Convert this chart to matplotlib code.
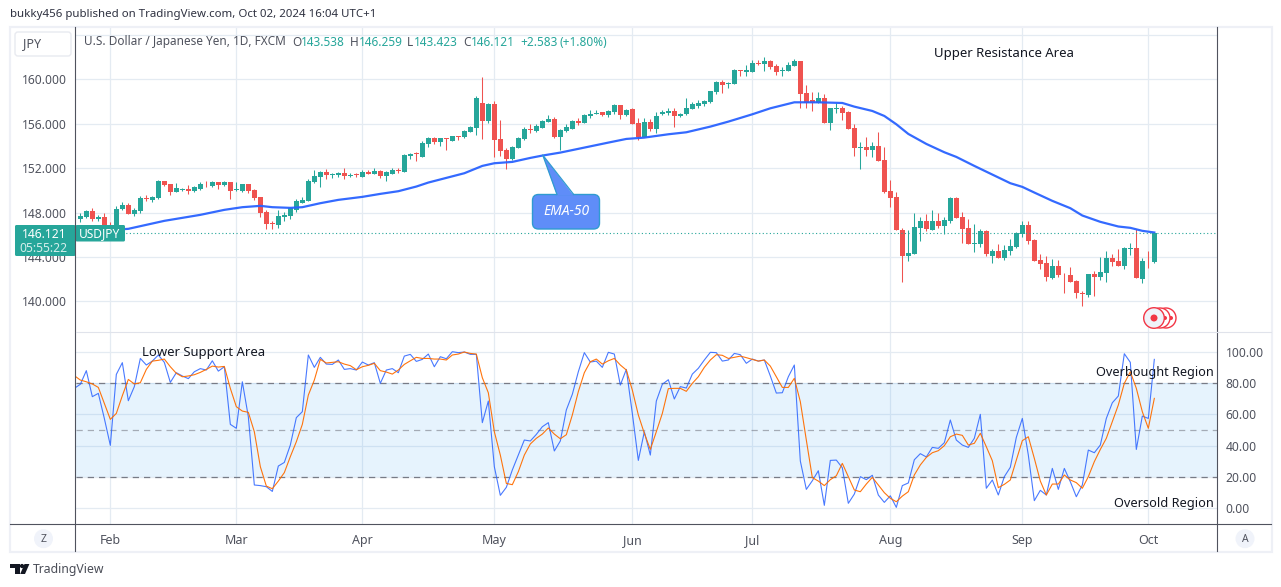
"""USD/JPY daily chart with EMA-50 and stochastic RSI panes (TradingView snapshot)."""

import numpy as np
import matplotlib
matplotlib.use("Agg")
import matplotlib.pyplot as plt
from matplotlib.patches import Circle, FancyBboxPatch, Polygon, Rectangle

plt.rcParams["font.family"] = ["Noto Sans", "DejaVu Sans"]

# daily candles, bar 0 is the first one visible
opens = [
    147.43, 147.58, 148.12, 147.43, 147.58, 146.89, 146.44, 148.33, 148.69, 147.88,
    148.18, 149.35, 149.14, 149.29, 150.82, 150.55, 149.89, 150.04, 150.13, 149.95,
    150.13, 150.61, 150.40, 150.73, 150.49, 150.73, 150.04, 149.95, 150.55, 150.04,
    149.38, 148.03, 147.07, 146.89, 147.64, 147.70, 148.24, 148.90, 149.05, 150.79,
    151.21, 151.66, 151.42, 151.36, 151.54, 151.33, 151.45, 151.24, 151.66, 151.48,
    151.75, 151.30, 151.51, 151.81, 151.66, 153.10, 153.34, 153.04, 154.18, 154.72,
    154.36, 154.72, 154.45, 154.90, 154.81, 155.26, 155.65, 157.87, 156.25, 157.78,
    154.63, 153.64, 152.83, 153.85, 154.63, 155.56, 155.35, 155.62, 156.19, 156.43,
    154.84, 155.32, 155.56, 156.25, 156.10, 156.70, 156.91, 157.03, 156.79, 157.06,
    157.69, 156.79, 157.33, 156.07, 154.81, 156.16, 155.56, 156.88, 156.97, 157.15,
    156.67, 156.88, 157.33, 157.63, 157.81, 157.96, 158.89, 159.76, 159.61, 159.61,
    160.84, 160.69, 160.69, 161.47, 161.41, 161.65, 161.20, 160.78, 160.78, 161.20,
    161.65, 158.77, 158.14, 157.90, 158.32, 156.10, 157.36, 157.42, 157.06, 155.62,
    153.82, 153.91, 153.67, 154.00, 152.74, 149.95, 149.41, 146.44, 144.10, 144.28,
    146.62, 147.25, 146.44, 147.25, 146.80, 147.25, 149.35, 147.61, 146.62, 145.18,
    145.18, 146.35, 144.10, 144.55, 143.92, 144.55, 144.91, 146.08, 146.89, 145.54,
    143.74, 143.47, 142.12, 143.20, 142.48, 142.39, 141.85, 140.74, 140.59, 142.48,
    142.21, 142.57, 143.92, 143.65, 143.20, 144.73, 144.82, 142.03, 143.65, 143.538,
]
highs = [
    147.94, 148.24, 148.39, 147.79, 147.94, 147.19, 148.60, 148.96, 148.87, 148.39,
    149.50, 149.59, 149.53, 150.94, 150.88, 150.61, 150.67, 150.25, 150.46, 150.37,
    150.76, 150.82, 150.85, 150.76, 150.85, 150.76, 150.76, 150.61, 150.61, 150.13,
    149.41, 148.21, 147.22, 148.24, 148.06, 148.48, 149.23, 149.41, 151.03, 151.84,
    151.75, 151.93, 151.60, 151.66, 152.02, 151.57, 151.60, 151.84, 151.84, 152.02,
    151.84, 151.78, 151.99, 151.99, 153.28, 153.37, 153.49, 154.45, 154.84, 154.78,
    154.72, 154.72, 154.90, 154.90, 155.44, 155.80, 158.50, 160.18, 157.84, 158.02,
    156.34, 153.85, 154.00, 154.81, 155.71, 155.98, 155.98, 156.31, 156.79, 156.58,
    155.53, 155.95, 156.34, 156.55, 156.88, 157.21, 157.21, 157.09, 157.24, 157.78,
    157.69, 157.33, 157.39, 156.49, 156.49, 156.46, 157.03, 157.24, 157.42, 157.39,
    157.00, 158.32, 157.96, 158.11, 158.14, 158.98, 159.85, 159.94, 159.76, 160.93,
    160.84, 161.26, 161.74, 161.71, 161.98, 161.71, 161.38, 161.14, 161.56, 161.80,
    161.68, 159.46, 158.86, 158.83, 158.65, 157.42, 157.84, 157.63, 157.18, 155.98,
    154.36, 154.81, 154.36, 155.26, 153.91, 150.94, 149.86, 146.59, 146.44, 147.97,
    147.61, 147.88, 148.24, 147.97, 147.61, 149.41, 149.41, 148.06, 147.43, 146.98,
    146.53, 146.44, 144.73, 145.18, 145.09, 145.63, 146.26, 147.25, 147.25, 145.60,
    144.28, 144.10, 143.83, 143.74, 142.57, 143.11, 141.94, 140.95, 142.48, 142.75,
    144.01, 144.55, 144.28, 144.73, 144.91, 145.27, 146.53, 143.92, 144.55, 146.259,
]
lows = [
    147.19, 147.49, 147.28, 147.25, 146.74, 146.14, 146.38, 148.24, 147.88, 147.70,
    148.00, 149.05, 148.96, 149.23, 150.40, 149.59, 149.86, 149.95, 149.71, 149.86,
    150.04, 150.31, 150.34, 150.13, 150.43, 149.23, 149.98, 149.89, 149.80, 149.14,
    147.61, 146.53, 146.53, 146.62, 147.25, 147.43, 148.06, 148.84, 149.02, 150.70,
    150.34, 151.03, 151.15, 151.24, 151.03, 151.18, 151.21, 151.21, 151.45, 151.45,
    151.09, 150.85, 151.45, 151.57, 151.66, 152.83, 152.65, 153.01, 153.91, 154.18,
    154.03, 153.64, 154.42, 154.54, 154.75, 155.23, 154.99, 154.60, 156.10, 153.04,
    153.13, 151.96, 152.74, 153.82, 154.54, 155.20, 155.26, 155.59, 156.16, 154.75,
    153.64, 155.26, 155.53, 155.89, 156.07, 156.55, 156.85, 156.70, 156.61, 156.91,
    156.43, 156.67, 155.95, 154.54, 154.78, 155.35, 155.17, 156.79, 156.82, 155.71,
    156.61, 156.76, 157.30, 157.45, 157.60, 157.90, 158.71, 158.80, 159.25, 159.58,
    160.33, 160.33, 160.66, 161.29, 160.78, 160.93, 160.42, 160.33, 160.75, 161.17,
    157.45, 157.42, 157.15, 157.87, 156.07, 155.44, 157.00, 156.34, 155.53, 153.10,
    151.93, 153.10, 153.01, 152.65, 149.74, 148.54, 146.44, 141.76, 143.65, 144.28,
    145.45, 146.35, 146.44, 146.62, 146.08, 147.07, 147.49, 145.27, 145.18, 144.46,
    144.91, 144.10, 143.47, 143.92, 143.74, 144.19, 144.82, 145.81, 145.18, 143.65,
    142.93, 141.85, 142.03, 142.21, 140.77, 141.76, 140.32, 139.60, 140.41, 140.50,
    141.94, 141.76, 143.20, 143.20, 142.93, 144.19, 142.12, 141.67, 143.02, 143.423,
]
closes = [
    147.70, 148.12, 147.46, 147.58, 146.86, 146.29, 148.30, 148.69, 147.88, 148.24,
    149.29, 149.26, 149.41, 150.85, 150.49, 149.86, 150.22, 150.13, 149.98, 150.31,
    150.58, 150.55, 150.76, 150.49, 150.73, 149.98, 150.13, 150.55, 149.95, 149.29,
    148.00, 147.01, 146.98, 147.67, 147.82, 148.39, 149.02, 149.14, 150.82, 151.27,
    151.66, 151.39, 151.51, 151.57, 151.33, 151.42, 151.36, 151.63, 151.51, 151.75,
    151.30, 151.66, 151.87, 151.75, 153.19, 153.28, 153.25, 154.24, 154.75, 154.39,
    154.72, 154.66, 154.90, 154.81, 155.35, 155.74, 158.29, 156.28, 157.81, 154.57,
    153.58, 152.83, 153.91, 154.72, 155.53, 155.47, 155.80, 156.22, 156.43, 154.81,
    155.44, 155.71, 156.25, 156.10, 156.79, 156.88, 157.00, 156.79, 157.15, 157.69,
    156.82, 157.24, 156.01, 154.78, 156.16, 155.56, 156.70, 157.09, 157.18, 156.70,
    156.91, 157.39, 157.78, 157.87, 158.05, 158.95, 159.79, 159.52, 159.70, 160.84,
    160.78, 160.81, 161.47, 161.41, 161.65, 161.11, 160.66, 160.84, 161.29, 161.65,
    158.71, 157.90, 157.90, 158.32, 156.10, 157.39, 157.45, 157.00, 155.56, 153.85,
    153.91, 153.67, 154.00, 152.68, 149.89, 149.35, 146.44, 144.10, 144.37, 146.71,
    147.25, 146.53, 147.25, 146.80, 147.34, 149.35, 147.52, 146.53, 145.18, 145.27,
    146.35, 144.28, 144.55, 143.92, 144.64, 145.00, 146.17, 146.89, 145.45, 143.65,
    143.38, 142.21, 143.20, 142.39, 142.42, 141.76, 140.77, 140.68, 142.48, 142.21,
    142.66, 143.92, 143.56, 143.20, 144.82, 144.82, 142.12, 143.65, 143.59, 146.121,
]

# EMA-50 at these bars
ema_bars = [0, 8, 14, 20, 24, 27, 30, 32, 35, 37, 40, 43, 47, 50, 53, 56, 58,
            64, 67, 69, 72, 75, 77, 80, 84, 88, 91, 94, 98, 101, 105, 108, 112,
            115, 119, 123, 127, 129, 132, 134, 136, 138, 141, 144, 146, 149, 152,
            155, 157, 159, 162, 165, 167, 170, 173, 175, 177, 179]
ema_vals = [146.23, 146.53, 147.25, 147.79, 148.24, 148.48, 148.60, 148.48, 148.42,
            148.48, 148.84, 149.14, 149.41, 149.68, 149.92, 150.34, 150.70,
            151.54, 152.20, 152.44, 152.56, 152.92, 153.13, 153.40, 153.85, 154.30,
            154.63, 154.75, 155.05, 155.23, 155.74, 156.19, 156.85, 157.39, 157.93,
            157.93, 157.87, 157.54, 157.15, 156.70, 155.95, 155.08, 154.18, 153.43,
            153.01, 152.20, 151.42, 150.64, 150.31, 149.80, 149.05, 148.39, 147.73,
            147.16, 146.74, 146.62, 146.35, 146.20]

# stochastic RSI, starts one bar before the first candle (bar -1)
stoch_k = [
    76.6, 79.2, 87.9, 71.3, 73.4, 57.4, 40.2, 85.5, 93.0, 68.7,
    77.7, 95.7, 91.5, 94.0, 97.9, 93.2, 80.4, 86.6, 84.5, 82.8,
    87.2, 89.2, 88.3, 94.2, 87.6, 90.4, 53.6, 51.1, 80.8, 58.5,
    14.9, 14.5, 13.8, 10.8, 27.0, 29.3, 40.4, 57.9, 61.7, 97.9,
    90.0, 96.4, 92.1, 91.9, 94.7, 88.7, 89.2, 88.3, 93.4, 91.5,
    93.0, 79.8, 88.3, 89.2, 86.6, 97.2, 98.3, 93.8, 95.1, 98.5,
    90.4, 96.8, 95.5, 100.0, 99.4, 99.8, 98.3, 98.3, 54.7, 68.5,
    26.6, 8.3, 13.4, 24.5, 34.0, 43.6, 43.0, 47.2, 52.1, 54.7,
    36.6, 43.0, 62.8, 72.8, 87.2, 99.4, 93.4, 94.0, 90.0, 99.6,
    98.5, 78.7, 88.7, 60.6, 30.6, 48.9, 34.0, 68.5, 79.2, 82.1,
    69.8, 77.7, 76.8, 85.7, 89.4, 94.7, 99.6, 99.4, 94.0, 94.7,
    98.9, 98.1, 92.6, 95.3, 94.0, 94.7, 84.5, 73.6, 73.8, 84.0,
    91.5, 30.2, 12.1, 17.6, 24.0, 1.9, 30.6, 30.8, 25.9, 3.2,
    9.1, 20.2, 18.3, 21.1, 8.5, 3.8, 8.0, 0.6, 14.5, 16.2,
    31.0, 34.9, 32.8, 38.9, 38.3, 41.9, 56.4, 43.6, 40.4, 38.9,
    44.7, 60.0, 12.8, 18.1, 8.5, 20.2, 26.2, 45.3, 57.4, 34.0,
    4.9, 11.5, 8.5, 25.5, 12.1, 25.5, 17.0, 7.4, 14.9, 37.2,
    35.5, 40.4, 57.4, 67.4, 71.7, 98.7, 93.2, 37.6, 58.9, 57.4,
    95.1,
]
stoch_d = [
    84.7, 81.9, 80.8, 79.4, 77.2, 67.0, 56.8, 60.6, 71.9, 82.3,
    79.4, 80.2, 88.7, 94.0, 94.5, 95.3, 90.4, 86.2, 84.0, 84.5,
    85.3, 86.8, 88.7, 90.8, 90.2, 90.6, 76.6, 64.9, 62.1, 61.3,
    48.9, 26.6, 14.2, 12.5, 17.4, 22.8, 33.0, 42.5, 53.6, 72.3,
    81.9, 95.1, 92.8, 93.2, 93.6, 92.1, 91.1, 88.5, 90.4, 91.3,
    92.6, 87.9, 87.0, 85.7, 88.3, 91.9, 94.2, 96.4, 95.7, 95.7,
    95.3, 95.3, 94.7, 97.9, 98.5, 99.8, 98.9, 98.5, 83.4, 73.8,
    48.9, 34.0, 15.9, 15.1, 23.4, 34.0, 41.1, 44.7, 47.4, 51.3,
    47.4, 44.4, 47.0, 59.6, 74.5, 86.6, 93.6, 95.3, 92.1, 94.2,
    95.7, 91.5, 88.3, 75.5, 59.6, 47.9, 37.6, 48.9, 60.6, 76.4,
    76.6, 76.6, 74.7, 79.8, 84.0, 90.0, 94.7, 98.1, 97.7, 95.7,
    96.4, 97.2, 96.2, 95.1, 94.0, 94.7, 90.8, 84.0, 77.2, 77.2,
    83.0, 68.1, 43.6, 19.6, 17.4, 14.5, 18.3, 20.8, 28.7, 20.2,
    11.7, 10.6, 15.5, 19.8, 14.9, 10.0, 6.4, 4.2, 7.8, 10.6,
    21.3, 27.7, 32.5, 35.5, 36.8, 40.0, 45.7, 47.4, 46.6, 40.4,
    41.5, 47.9, 39.3, 30.4, 13.2, 15.3, 18.1, 30.8, 43.2, 45.7,
    31.9, 17.4, 8.5, 15.5, 15.5, 21.3, 18.1, 16.4, 12.8, 20.2,
    29.8, 37.6, 44.7, 55.3, 66.0, 79.8, 87.2, 76.6, 61.7, 51.1,
    70.2,
]

month_bars = [5, 26, 47, 69, 92, 112, 135, 157, 178]
month_labels = ["Feb", "Mar", "Apr", "May", "Jun", "Jul", "Aug", "Sep", "Oct"]
price_ticks = [140, 144, 148, 152, 156, 160, 164]
price_labels = ["140.000", "144.000", "148.000", "152.000", "156.000", "160.000", ""]
stoch_ticks = [0, 20, 40, 60, 80, 100]
stoch_labels = ["0.00", "20.00", "40.00", "60.00", "80.00", "100.00"]

GREEN = "#26a69a"
RED = "#ef5350"
GRID = "#e4ebf2"
AXIS = "#50535e"
TEXT = "#131722"
W, H = 1281, 587
PANE_L, PANE_R = 75.5, 1217.5
PANE_TOP, PANE_MID, PANE_BOT = 27.5, 331.5, 524.3


def pane_rect(top, bottom):
    return [PANE_L / W, 1 - bottom / H, (PANE_R - PANE_L) / W, (bottom - top) / H]


fig = plt.figure(figsize=(W / 100, H / 100), dpi=100, facecolor="white")
ax = fig.add_axes(pane_rect(PANE_TOP, PANE_MID))
ax2 = fig.add_axes(pane_rect(PANE_MID, PANE_BOT))

for a in (ax, ax2):
    a.set_xlim(-0.805, 189.53)
    for s in a.spines.values():
        s.set_visible(False)
    a.set_axisbelow(True)
    a.grid(True, color=GRID, linewidth=0.9)
    a.set_xticks(month_bars)

# price pane
bars = np.arange(len(opens))
o, h, l, c = map(np.array, (opens, highs, lows, closes))
colors = [GREEN if up else RED for up in c >= o]
ax.vlines(bars, l, h, colors=colors, linewidth=0.75, zorder=2)
ax.bar(bars, np.abs(c - o), bottom=np.minimum(o, c), width=0.8, color=colors, linewidth=0, zorder=3)
ax.plot(ema_bars, ema_vals, color="#2962ff", linewidth=1.6, zorder=4, alpha=0.95)
ax.axhline(closes[-1], color=GREEN, linewidth=0.8, linestyle=(0, (1, 2.2)), zorder=4)

ax.set_ylim(137.28, 164.67)
ax.set_yticks(price_ticks)
ax.set_yticklabels(price_labels, fontsize=8.7, color=AXIS)
ax.tick_params(axis="y", length=0, pad=6)
ax.tick_params(axis="x", length=0, labelbottom=False)

# stochastic pane
stoch_x = np.arange(-1, len(stoch_k) - 1)
ax2.axhspan(20, 80, color="#2196f3", alpha=0.11, linewidth=0, zorder=1)
ax2.axhline(80, color="#787b86", linewidth=0.9, linestyle=(0, (5, 4)), zorder=2)
ax2.axhline(50, color="#787b86", linewidth=0.9, linestyle=(0, (5, 4)), alpha=0.6, zorder=2)
ax2.axhline(20, color="#787b86", linewidth=0.9, linestyle=(0, (5, 4)), zorder=2)
ax2.plot(stoch_x, stoch_k, color="#2962ff", linewidth=0.8, alpha=0.85, zorder=3)
ax2.plot(stoch_x, stoch_d, color="#ff6d00", linewidth=0.8, alpha=0.95, zorder=4)

ax2.set_ylim(-10.2, 112.9)
ax2.set_yticks(stoch_ticks)
ax2.set_yticklabels(stoch_labels, fontsize=8.7, color=AXIS)
ax2.yaxis.tick_right()
ax2.tick_params(axis="y", length=0, pad=6)
ax2.set_xticklabels(month_labels, fontsize=9, color=AXIS)
ax2.tick_params(axis="x", length=0, pad=7)

# everything around the panes is laid out in pixels on a full-figure overlay
ov = fig.add_axes([0, 0, 1, 1], zorder=10)
ov.set_xlim(0, W)
ov.set_ylim(H, 0)
ov.axis("off")

# frame
ov.add_patch(Rectangle((10, 26.5), 1261.5, 525, fill=False, edgecolor="#eef0f6", linewidth=1.6))
ov.plot([PANE_L - 0.5, PANE_L - 0.5], [27, 551], color=AXIS, linewidth=0.8)
ov.plot([PANE_R - 0.5, PANE_R - 0.5], [27, 551], color=AXIS, linewidth=0.8)
ov.plot([10, 1271], [PANE_BOT, PANE_BOT], color=AXIS, linewidth=0.8)
ov.plot([PANE_R, 1271], [PANE_MID, PANE_MID], color="#e0e3eb", linewidth=0.8)
ov.plot([PANE_L, PANE_R], [PANE_MID, PANE_MID], color="#e0e3eb", linewidth=0.8)

ov.text(10, 15, "bukky456 published on TradingView.com, Oct 02, 2024 16:04 UTC+1",
        fontsize=8.25, color="#2f3241", va="center")

# JPY button
ov.add_patch(FancyBboxPatch((15, 32), 56, 24, boxstyle="round,pad=0,rounding_size=3",
                            facecolor="white", edgecolor="#e8eaf0", linewidth=1))
ov.text(23, 44, "JPY", fontsize=9, color=AXIS, va="center")

# legend row
ov.text(84, 42, "U.S. Dollar / Japanese Yen, 1D, FXCM", fontsize=8.5, color=AXIS, va="center")
for x, s, col in [(292.5, "O", AXIS), (301, "143.538", GREEN), (350, "H", AXIS), (359, "146.259", GREEN),
                  (407, "L", AXIS), (414, "143.423", GREEN), (463, "C", AXIS), (471, "146.121", GREEN),
                  (520, "+2.583", GREEN), (560, "(+1.80%)", GREEN)]:
    ov.text(x, 42, s, fontsize=8.5, color=col, va="center")

# last price tags
ov.add_patch(FancyBboxPatch((15, 225), 60.5, 31, boxstyle="round,pad=0,rounding_size=1.5",
                            facecolor=GREEN, edgecolor="none"))
ov.add_patch(FancyBboxPatch((75.5, 225), 49.5, 16.5, boxstyle="round,pad=0,rounding_size=1.5",
                            facecolor=GREEN, edgecolor="none"))
ov.text(67, 234, "146.121", fontsize=8.7, color="white", ha="right", va="center", fontweight="bold")
ov.text(67, 248, "05:55:22", fontsize=8.7, color="#d4eeeb", ha="right", va="center")
ov.text(100, 233.5, "USDJPY", fontsize=8.6, color="white", ha="center", va="center", fontweight="bold")

# EMA-50 callout
CALLOUT = "#5f8df8"
CALLOUT_EDGE = "#2f9bd0"
ov.add_patch(FancyBboxPatch((532.5, 194.5), 67, 34.5, boxstyle="round,pad=0,rounding_size=6",
                            facecolor=CALLOUT, edgecolor=CALLOUT_EDGE, linewidth=1))
ov.add_patch(Polygon([(542.7, 155), (557, 195.5), (573.7, 195.5)], closed=True,
                     facecolor=CALLOUT, edgecolor="none"))
ov.plot([557, 542.7, 573.7], [194.5, 155, 194.5], color=CALLOUT_EDGE, linewidth=0.9)
ov.text(566, 211.5, "EMA-50", fontsize=10, color="white", style="italic", ha="center", va="center")

# drawn labels
ov.text(934, 53.5, "Upper Resistance Area", fontsize=9.5, color=TEXT, va="center")
ov.text(142, 352.5, "Lower Support Area", fontsize=9.45, color=TEXT, va="center")
ov.text(1214, 372.5, "Overbought Region", fontsize=9.15, color=TEXT, ha="right", va="center")
ov.text(1214, 503.5, "Oversold Region", fontsize=9.2, color=TEXT, ha="right", va="center")

# replay markers
for x in (1166, 1160):
    ov.add_patch(Circle((x, 318), 10, facecolor="white", edgecolor="#f23645", linewidth=1))
    ov.add_patch(Circle((x + 5, 318), 2, facecolor="#f23645", edgecolor="none"))
ov.add_patch(Circle((1154, 318), 10.3, facecolor="#eff2f9", edgecolor="#f23645", linewidth=1))
ov.add_patch(Circle((1154, 318), 3.5, facecolor="#f23645", edgecolor="none"))

# corner buttons under the time axis
for x, s in ((43.5, "Z"), (1245, "A")):
    ov.add_patch(Circle((x, 538.7), 9.5, facecolor="#f0f3fa", edgecolor="none"))
    ov.text(x, 539, s, fontsize=7.5, color=AXIS, ha="center", va="center")

# TradingView logo and wordmark
ov.add_patch(Polygon([(10, 564), (19.5, 564), (19.5, 574), (15, 574), (15, 568), (10, 568)],
                     closed=True, facecolor="#131722", edgecolor="none"))
ov.add_patch(Circle((22, 566), 2.1, facecolor="#131722", edgecolor="none"))
ov.add_patch(Polygon([(24.5, 564), (29.4, 564), (25, 574), (20.2, 574)],
                     closed=True, facecolor="#131722", edgecolor="none"))
ov.text(33, 569.5, "TradingView", fontsize=8.8, color="#4a4d57", va="center")

fig.savefig("out.png", dpi=100, facecolor="white")
